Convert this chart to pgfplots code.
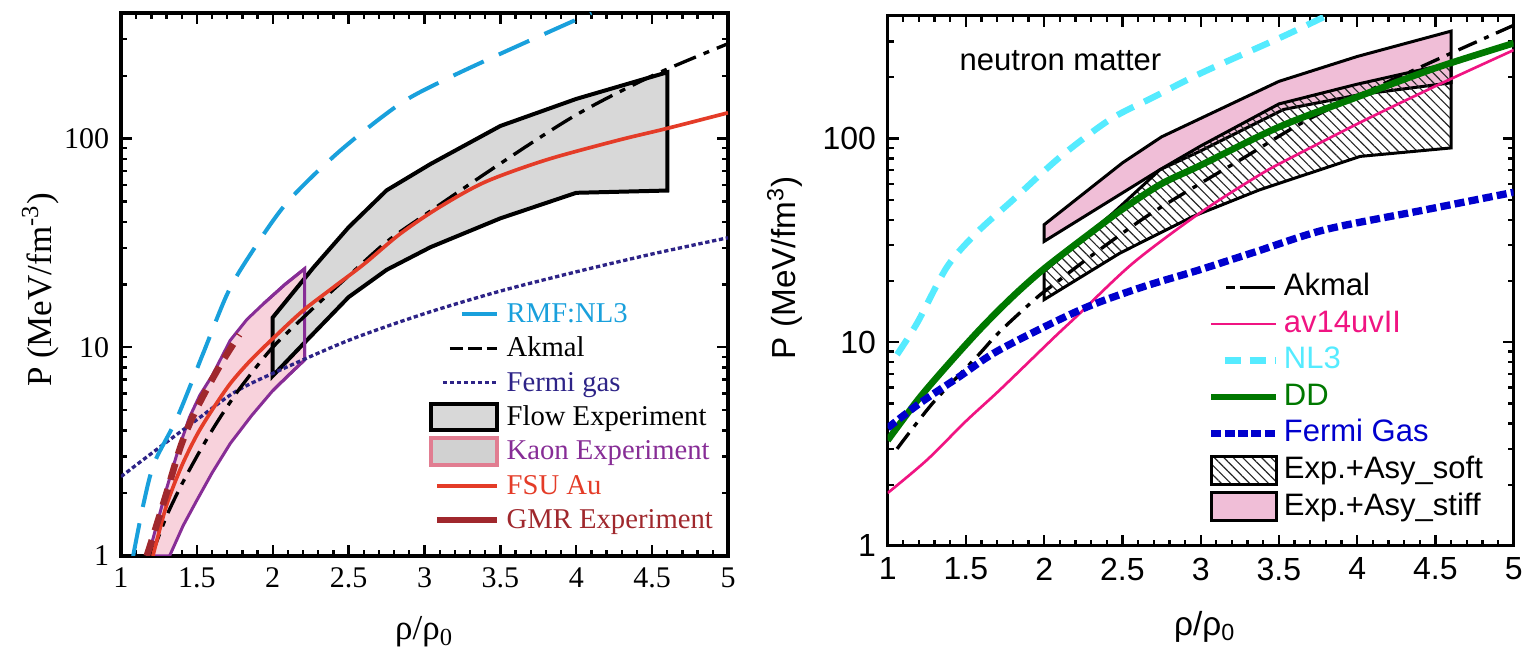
\documentclass[border=0pt]{standalone}
\usepackage{pgfplots}
\pgfplotsset{compat=1.18}
\usepackage{fontspec}
\usetikzlibrary{patterns.meta}
\newfontfamily\lserif{Liberation Serif}
\newfontfamily\lsans{Liberation Sans}

% left panel colours
\definecolor{nlL}{RGB}{25,160,220}
\definecolor{fermiL}{RGB}{45,35,135}
\definecolor{kaonL}{RGB}{135,45,150}
\definecolor{kaonfill}{RGB}{248,210,220}
\definecolor{kaonedge}{RGB}{225,125,145}
\definecolor{flowfill}{RGB}{216,216,216}
\definecolor{fsuL}{RGB}{228,60,40}
\definecolor{gmrL}{RGB}{160,40,45}
% right panel colours
\definecolor{avR}{RGB}{240,20,130}
\definecolor{nlR}{RGB}{85,235,255}
\definecolor{ddR}{RGB}{0,120,0}
\definecolor{fgR}{RGB}{0,0,205}
\definecolor{stiff}{RGB}{240,190,215}

\pgfplotsset{
  leglineL/.style={legend image code/.code={\pgfpathrectangle{\pgfpoint{0pt}{-4pt}}{\pgfpoint{19.8pt}{8pt}}\pgfusepath{discard}\draw[##1] (#1,0pt) -- (19.8pt,0pt);}},
  legboxL/.style={legend image code/.code={\pgfpathrectangle{\pgfpoint{0pt}{-4pt}}{\pgfpoint{19.8pt}{8pt}}\pgfusepath{discard}\draw[##1,overlay] (0pt,-4pt) rectangle (19.8pt,4pt);}},
  leglineR/.style={legend image code/.code={\pgfpathrectangle{\pgfpoint{0pt}{-4.5pt}}{\pgfpoint{19.5pt}{9pt}}\pgfusepath{discard}\draw[##1] (#1,0pt) -- (19.5pt,0pt);}},
  legboxR/.style={legend image code/.code={\pgfpathrectangle{\pgfpoint{0pt}{-4.5pt}}{\pgfpoint{19.5pt}{9pt}}\pgfusepath{discard}\draw[##1,overlay] (0pt,-4.2pt) rectangle (19.5pt,4.2pt);}},
}

\begin{document}
\begin{tikzpicture}
\useasboundingbox (-36.3pt,-27.6pt) rectangle (421.5pt,166.8pt);

% ---------------- left panel: symmetric matter ----------------
\begin{axis}[at={(0pt,0pt)}, anchor=south west,
  scale only axis, width=182.1pt, height=162.9pt,
  xmin=1, xmax=5, ymode=log, ymin=1, ymax=400,
  /pgf/number format/assume math mode=true, log ticks with fixed point,
  xtick={1,1.5,2,2.5,3,3.5,4,4.5,5}, minor x tick num=4, ytick={1,10,100},
  minor ytick={2,3,4,5,6,7,8,9,20,30,40,50,60,70,80,90,200,300},
  axis line style={line width=1pt}, every tick/.append style={black, line width=0.7pt},
  major tick length=3.3pt, minor tick length=1.8pt,
  tick label style={font=\lserif\fontsize{9}{10}\selectfont},
  every axis x label/.style={at={(rel axis cs:0.5,-0.14)}, anchor=center},
  every axis y label/.style={at={(rel axis cs:-0.133,0.49)}, rotate=90, anchor=center},
  label style={font=\lserif\fontsize{10.5}{12}\selectfont},
  xlabel={ρ/ρ\textsubscript{0}}, ylabel={P (MeV/fm\textsuperscript{-3})},
  legend cell align=left,
  legend style={at={(rel axis cs:0.5107,0.470)}, anchor=north west, draw=none, fill=none,
    inner sep=0pt, outer sep=0pt, font=\lserif\fontsize{8.6}{10}\selectfont,
    nodes={inner sep=0pt, text height=6.5pt, text depth=1.5pt}, row sep=2.3pt, column sep=2.1pt},
]
% Kaon band
\addplot[forget plot, draw=kaonL, line width=0.9pt, fill=kaonfill] coordinates {
  (1.18,1) (1.24,1.45) (1.30,2.1) (1.37,3.1) (1.45,4.6) (1.52,5.9) (1.60,7.3) (1.72,10.8) (1.83,13.6) (1.94,16.2) (2.08,20) (2.21,23.8)
  (2.21,8.7) (2.1,7.3) (2.0,6.2) (1.86,4.7) (1.72,3.46) (1.6,2.5) (1.5,1.85) (1.41,1.4) (1.32,1)} -- cycle;
% Flow band
\addplot[forget plot, draw=black, line width=1.2pt, fill=flowfill] coordinates {
  (2,7.3) (2,13.9) (2.27,24.2) (2.5,37.6) (2.75,56.5) (3.04,75.6) (3.5,115) (4,155) (4.6,208)
  (4.6,56.4) (4,55) (3.5,41.5) (3.04,30.2) (2.75,23.5) (2.5,17.4) (2.18,10.0)} -- cycle;
\addplot[forget plot, draw=kaonL, line width=0.9pt] coordinates {
  (1.94,16.2) (2.08,20) (2.21,23.8) (2.21,8.7) (2.1,7.3) (2.0,6.2)};
% Fermi gas
\addplot[forget plot, smooth, fermiL, line width=1pt, dash pattern=on 1.3pt off 0.8pt] coordinates {
  (1,2.4) (1.25,3.3) (1.5,4.5) (1.75,6.1) (2,7.5) (2.5,10.8) (3,14.5) (3.5,18.6) (4,23) (4.5,28) (5,33.5)};
% RMF:NL3
\addplot[forget plot, smooth, nlL, line width=1.2pt, dash pattern=on 10pt off 5pt] coordinates {
  (1.08,1.0) (1.15,1.8) (1.22,2.8) (1.37,4.6) (1.54,9.3) (1.70,18) (1.84,27) (2.09,49)
  (2.44,87) (2.84,147) (3.15,194) (3.5,255) (3.87,337) (4.1,400)};
% Akmal
\addplot[forget plot, smooth, black, line width=1pt, dash pattern=on 7pt off 2.5pt on 1.8pt off 2.5pt] coordinates {
  (1.2,1.0) (1.3,1.55) (1.4,2.2) (1.5,3.0) (1.6,4.0) (1.7,5.2) (1.8,6.6) (2.0,10) (2.25,15)
  (2.5,22) (2.75,32) (3.0,43) (3.5,76) (4.0,130) (4.5,200) (5.0,285)};
% FSU Au
\addplot[forget plot, smooth, fsuL, line width=1.1pt] coordinates {
  (1.21,1) (1.3,1.75) (1.4,2.7) (1.5,3.8) (1.6,5.0) (1.72,6.7) (1.85,8.6) (2.0,11) (2.2,15)
  (2.4,19.4) (2.6,25) (2.84,35) (3.1,47) (3.4,62) (3.8,79) (4.27,98) (4.6,112) (5,133)};
% GMR
\addplot[forget plot, smooth, gmrL, line width=2pt, dash pattern=on 5pt off 3pt] coordinates {
  (1.17,1) (1.22,1.3) (1.30,2.0) (1.39,3.3) (1.47,4.6) (1.56,6.2) (1.67,8.6) (1.78,11.5)};

\addlegendimage{leglineL=9.3pt, nlL, line width=1.2pt}
\addlegendentry{\textcolor{nlL}{RMF:NL3}}
\addlegendimage{leglineL=5.7pt, black, line width=1pt, dash pattern=on 4pt off 1.5pt}
\addlegendentry{Akmal}
\addlegendimage{leglineL=3.6pt, fermiL, line width=1pt, dash pattern=on 1.3pt off 0.8pt}
\addlegendentry{\textcolor{fermiL}{Fermi gas}}
\addlegendimage{legboxL, draw=black, line width=1.2pt, fill=flowfill}
\addlegendentry{Flow Experiment}
\addlegendimage{legboxL, draw=kaonedge, line width=1.2pt, fill=black!18}
\addlegendentry{\textcolor{kaonL}{Kaon Experiment}}
\addlegendimage{leglineL=1.8pt, fsuL, line width=1.1pt}
\addlegendentry{\textcolor{fsuL}{FSU Au}}
\addlegendimage{leglineL=1.8pt, gmrL, line width=1.6pt}
\addlegendentry{\textcolor{gmrL}{GMR Experiment}}
\end{axis}

% ---------------- right panel: neutron matter ----------------
\begin{axis}[at={(230pt,3pt)}, anchor=south west,
  scale only axis, width=187.8pt, height=159pt,
  xmin=1, xmax=5, ymode=log, ymin=1, ymax=400,
  /pgf/number format/assume math mode=true, log ticks with fixed point,
  xtick={1,1.5,2,2.5,3,3.5,4,4.5,5}, minor x tick num=4, ytick={1,10,100},
  minor ytick={2,3,4,5,6,7,8,9,20,30,40,50,60,70,80,90,200,300},
  axis line style={line width=0.9pt}, every tick/.append style={black, line width=0.7pt},
  major tick length=3.3pt, minor tick length=1.8pt,
  tick label style={font=\lsans\fontsize{9.6}{11}\selectfont},
  every axis x label/.style={at={(rel axis cs:0.507,-0.153)}, anchor=center},
  every axis y label/.style={at={(rel axis cs:-0.1645,0.525)}, rotate=90, anchor=center},
  label style={font=\lsans\fontsize{10}{12}\selectfont},
  xlabel={ρ/ρ\textsubscript{0}}, ylabel={P (MeV/fm\textsuperscript{3})},
  legend cell align=left,
  legend style={at={(rel axis cs:0.511,0.516)}, anchor=north west, draw=none, fill=none,
    inner sep=0pt, outer sep=0pt, font=\lsans\fontsize{9.3}{11}\selectfont,
    nodes={inner sep=0pt, text height=7pt, text depth=2pt}, row sep=1.96pt, column sep=1.2pt},
]
% Exp.+Asy_stiff
\addplot[forget plot, draw=black, line width=0.9pt, fill=stiff] coordinates {
  (2,31.3) (2,37.8) (2.5,76) (2.75,102) (3.5,191) (4,253) (4.6,337)
  (4.6,188) (4.02,164.6) (3.53,139) (3.0,87) (2.74,70.4)} -- cycle;
% Exp.+Asy_soft
\addplot[forget plot, draw=black, line width=0.9pt, pattern={Lines[angle=-45,distance=2pt,line width=0.35pt]}, pattern color=black!85] coordinates {
  (2,16.2) (2,22.3) (2.44,43.1) (2.74,70.4) (3.0,92) (3.5,148) (4.0,185) (4.6,235)
  (4.6,90) (4.02,81.8) (3.378,56.1) (2.951,41.5) (2.484,27.4)} -- cycle;
% NL3
\addplot[forget plot, smooth, nlR, line width=1.9pt, dash pattern=on 5.5pt off 3.5pt] coordinates {
  (1.06,8.7) (1.19,12.5) (1.38,23.5) (1.57,34.6) (1.80,50) (2.10,81) (2.42,124) (2.70,160)
  (3.01,211) (3.52,316) (3.8,400)};
% av14uvII
\addplot[forget plot, smooth, avR, line width=0.8pt] coordinates {
  (1.0,1.82) (1.25,2.64) (1.5,4.1) (1.717,5.84) (2.06,10.5) (2.207,13.4) (2.568,24.5)
  (2.994,43.1) (3.378,66.5) (3.59,81.5) (4.0,118) (4.23,144) (4.59,195) (5.0,272)};
% Akmal
\addplot[forget plot, smooth, black, line width=1pt, dash pattern=on 6pt off 2.4pt on 1.5pt off 2.4pt] coordinates {
  (1.06,3.0) (1.29,5.05) (1.57,8.5) (1.717,11.3) (1.95,16.5) (2.06,19.2) (2.313,27) (2.654,41.5)
  (2.994,60) (3.27,80) (3.72,128) (4.44,231) (5.0,360)};
% DD
\addplot[forget plot, smooth, ddR, line width=2pt] coordinates {
  (1.0,3.3) (1.2,5.3) (1.4,8.0) (1.6,11.8) (1.8,16.8) (2.0,23) (2.3,34.6) (2.5,45) (2.75,60)
  (3.0,74) (3.5,114) (4.0,160) (4.5,222) (5.0,294)};
% Fermi Gas
\addplot[forget plot, smooth, fgR, line width=2.2pt, dash pattern=on 3pt off 1.3pt] coordinates {
  (1.0,3.8) (1.21,5.05) (1.46,6.8) (1.717,9.2) (2.228,14.4) (2.611,18.5) (2.994,22.7) (3.356,27.9)
  (3.80,35.8) (4.44,44.8) (5.0,54.5)};

\node[anchor=base west, font=\lsans\fontsize{9.3}{11}\selectfont] at (rel axis cs:0.0963,0.898) {neutron matter};

\addlegendimage{leglineR=4.5pt, black, line width=1pt, dash pattern=on 2.5pt off 1.5pt on 8pt off 0pt}
\addlegendentry{Akmal}
\addlegendimage{leglineR=0pt, avR, line width=0.8pt}
\addlegendentry{\textcolor{avR}{av14uvII}}
\addlegendimage{leglineR=4pt, nlR, line width=1.9pt, dash pattern=on 5pt off 2.5pt}
\addlegendentry{\textcolor{nlR}{NL3}}
\addlegendimage{leglineR=0pt, ddR, line width=2pt}
\addlegendentry{\textcolor{ddR}{DD}}
\addlegendimage{leglineR=0pt, fgR, line width=2.2pt, dash pattern=on 3pt off 1pt}
\addlegendentry{\textcolor{fgR}{Fermi Gas}}
\addlegendimage{legboxR, draw=black, line width=0.9pt, pattern={Lines[angle=-45,distance=2pt,line width=0.35pt]}, pattern color=black!85}
\addlegendentry{Exp.+Asy\_soft}
\addlegendimage{legboxR, draw=black, line width=0.9pt, fill=stiff}
\addlegendentry{Exp.+Asy\_stiff}
\end{axis}
\end{tikzpicture}
\end{document}
